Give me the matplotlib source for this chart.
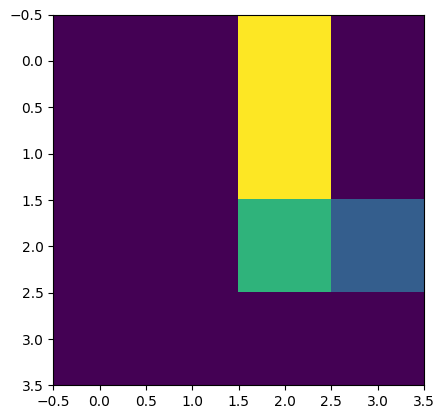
import numpy as np
import matplotlib
matplotlib.use("Agg")
import matplotlib.pyplot as plt

# 4x4 grid values
row0 = [0, 0, 20, 0]
row1 = [0, 0, 20, 0]
row2 = [0, 0, 13, 6]
row3 = [0, 0, 0, 0]
grid = np.array([row0, row1, row2, row3])

fig, ax = plt.subplots(figsize=(4.43, 4.18), dpi=100)
ax.imshow(grid, cmap="viridis")
fig.subplots_adjust(left=0.12, right=0.957, top=0.965, bottom=0.078)
fig.savefig("out.png", dpi=100)
